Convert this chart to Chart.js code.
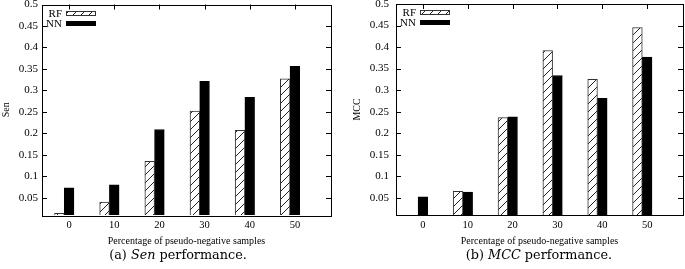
<!DOCTYPE html>
<html>
<head>
<meta charset="utf-8">
<script src="https://cdn.jsdelivr.net/npm/chart.js@4.4.0/dist/chart.umd.min.js"></script>
<style>
  html, body { margin: 0; padding: 0; background: #fff; }
  body { width: 685px; height: 269px; position: relative; overflow: hidden; }
  .box { position: absolute; top: 0; }
  #boxA { left: 0; }
  #boxB { left: 340px; }
  .cap {
    position: absolute; top: 247px;
    font-family: "DejaVu Serif", serif; font-size: 12.8px; color: #000;
    white-space: nowrap; transform: translateX(-50%);
  }
</style>
</head>
<body>
<div class="box" id="boxA"><canvas id="chartA" width="340" height="250"></canvas></div>
<div class="box" id="boxB"><canvas id="chartB" width="345" height="250"></canvas></div>
<div class="cap" style="left:178px">(a) <i>Sen</i> performance.</div>
<div class="cap" style="left:539px">(b) <i>MCC</i> performance.</div>
<script>
// x categories (percentage of pseudo-negative samples)
const percentages = [0, 10, 20, 30, 40, 50];
const yTickValues = [0.05, 0.1, 0.15, 0.2, 0.25, 0.3, 0.35, 0.4, 0.45, 0.5];

// (a) Sen
const senRF = [0.014, 0.040, 0.135, 0.252, 0.207, 0.327];
const senNN = [0.073, 0.080, 0.209, 0.321, 0.284, 0.356];

// (b) MCC
const mccRF = [0.000, 0.065, 0.236, 0.392, 0.325, 0.445];
const mccNN = [0.052, 0.063, 0.238, 0.334, 0.281, 0.377];

const serif = "'Liberation Serif', 'Times New Roman', serif";

function makeHatch() {
  const c = document.createElement("canvas");
  c.width = 8; c.height = 8;
  const g = c.getContext("2d");
  g.fillStyle = "#fff";
  g.fillRect(0, 0, 8, 8);
  g.strokeStyle = "#222";
  g.lineWidth = 1;
  g.beginPath();
  g.moveTo(0, 8); g.lineTo(8, 0);
  g.moveTo(-1, 1); g.lineTo(1, -1);
  g.moveTo(7, 9); g.lineTo(9, 7);
  g.stroke();
  return g.createPattern(c, "repeat");
}
const hatch = makeHatch();

// gnuplot style frame: box, inward ticks on all sides, legend top-left
const framePlugin = {
  id: "frame",
  beforeDatasetsDraw(chart) {
    const { ctx, chartArea: a, scales: { x, y } } = chart;
    ctx.save();
    ctx.strokeStyle = "#000";
    ctx.lineWidth = 1;
    ctx.beginPath();
    yTickValues.forEach(v => {
      const p = Math.round(y.getPixelForValue(v)) + 0.5;
      ctx.moveTo(a.left, p); ctx.lineTo(a.left + 5, p);
      ctx.moveTo(a.right, p); ctx.lineTo(a.right - 5, p);
    });
    percentages.forEach(v => {
      const p = Math.round(x.getPixelForValue(v)) + 0.5;
      ctx.moveTo(p, a.top); ctx.lineTo(p, a.top + 5);
      ctx.moveTo(p, a.bottom); ctx.lineTo(p, a.bottom - 5);
    });
    ctx.stroke();
    ctx.restore();
  },
  afterDatasetsDraw(chart) {
    const { ctx, chartArea: a } = chart;
    ctx.save();
    ctx.strokeStyle = "#000";
    ctx.lineWidth = 1;
    ctx.strokeRect(Math.round(a.left) + 0.5, Math.round(a.top) + 0.5,
                   Math.round(a.right - a.left), Math.round(a.bottom - a.top));

    // legend
    ctx.font = "11px " + serif;
    ctx.fillStyle = "#000";
    ctx.textAlign = "right";
    ctx.textBaseline = "middle";
    chart.data.datasets.slice(0, 2).forEach((ds, i) => {
      const cy = Math.round(a.top) + 9 + i * 10;
      ctx.fillText(ds.label, a.left + 20, cy);
      ctx.fillStyle = ds.backgroundColor;
      ctx.fillRect(Math.round(a.left) + 24, cy - 3, 30, 5);
      ctx.strokeStyle = ds.borderColor;
      ctx.strokeRect(Math.round(a.left) + 24.5, cy - 2.5, 29, 4);
      ctx.fillStyle = "#000";
    });
    ctx.restore();
  }
};

function makeChart(id, yTitle, rf, nn, o) {
  const pts = arr => percentages.map((x, i) => ({ x, y: arr[i] }));
  return new Chart(document.getElementById(id), {
    type: "bar",
    data: {
      datasets: [
        { label: "RF", data: pts(rf), backgroundColor: hatch, borderColor: "#333", borderWidth: 1 },
        { label: "NN", data: pts(nn), backgroundColor: "#000", borderColor: "#000", borderWidth: 1 },
        // empty slot so the NN bar sits on the tick, as in gnuplot's clustered histogram
        { label: "", data: percentages.map(x => ({ x, y: null })) }
      ]
    },
    options: {
      responsive: false,
      animation: false,
      events: [],
      barThickness: 9.7,
      clip: 0,
      layout: { padding: { top: o.top, right: o.right, bottom: 0, left: 0 } },
      plugins: { legend: { display: false }, tooltip: { enabled: false } },
      scales: {
        x: {
          type: "linear",
          offset: false,
          min: -6, max: 58,
          grid: { display: false, drawTicks: false },
          border: { display: false },
          afterBuildTicks: s => { s.ticks = percentages.map(v => ({ value: v })); },
          afterFit: s => { s.height = 35; s.paddingLeft = 0; s.paddingRight = 0; },
          ticks: { color: "#000", padding: 4, font: { family: serif, size: 10.5 }, callback: v => String(v) },
          title: {
            display: true, text: "Percentage of pseudo-negative samples", color: "#000",
            font: { family: serif, size: 10 }, padding: { top: 0, bottom: 3 }
          }
        },
        y: {
          type: "linear",
          min: 0.01, max: 0.5,
          grid: { display: false, drawTicks: false },
          border: { display: false },
          afterBuildTicks: s => { s.ticks = yTickValues.map(v => ({ value: v })); },
          afterFit: s => { s.width = o.yWidth; s.paddingTop = 0; s.paddingBottom = 0; },
          ticks: { color: "#000", padding: o.tickPad, font: { family: serif, size: 11 }, callback: v => String(v) },
          title: {
            display: true, text: yTitle, color: "#000",
            font: { family: serif, size: 10 }, padding: { top: o.titlePad, bottom: 0 }
          }
        }
      }
    },
    plugins: [framePlugin]
  });
}

makeChart("chartA", "Sen", senRF, senNN, { top: 4.5, right: 9, yWidth: 42, tickPad: 4, titlePad: 0 });
makeChart("chartB", "MCC", mccRF, mccNN, { top: 4, right: 2, yWidth: 56, tickPad: 7, titlePad: 11 });
</script>
</body>
</html>
